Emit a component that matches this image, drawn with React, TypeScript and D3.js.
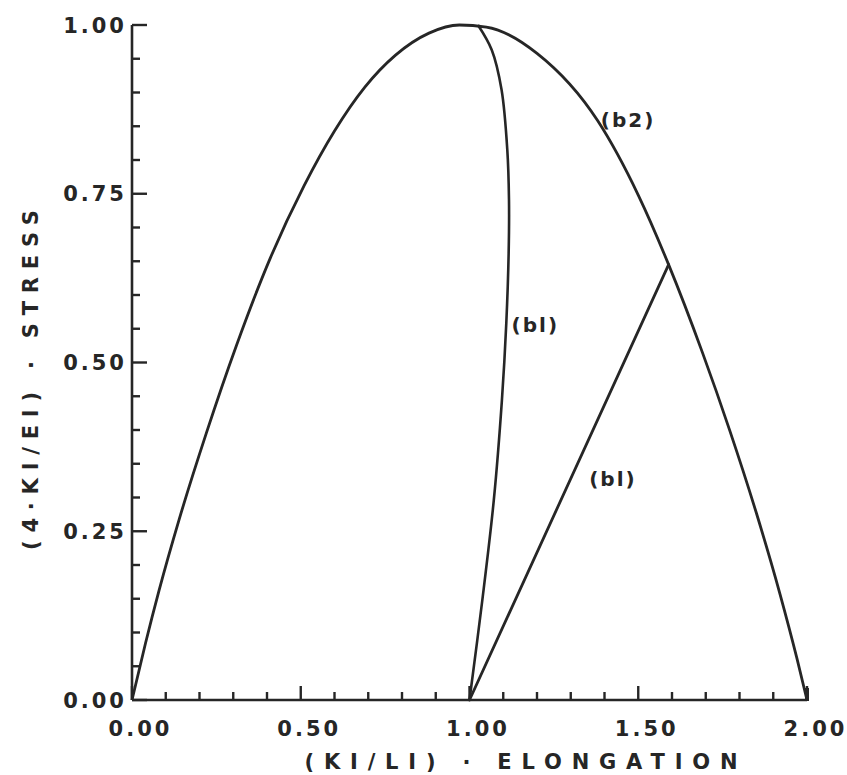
import React from "react";
import * as d3 from "d3";

// ---- data ----
const b2X = [0, 0.04, 0.08, 0.14, 0.22, 0.31, 0.41, 0.51, 0.6, 0.69, 0.78, 0.88, 0.97, 1.05, 1.2, 1.38, 1.5, 1.59, 1.69, 1.77, 1.85, 1.92, 1.97, 2.0];
const b2Y = [0, 0.084, 0.162, 0.268, 0.395, 0.526, 0.655, 0.762, 0.843, 0.908, 0.955, 0.988, 1.0, 0.997, 0.958, 0.858, 0.748, 0.645, 0.515, 0.401, 0.277, 0.157, 0.062, 0];

const b1CurveX = [1.025, 1.066, 1.095, 1.112, 1.117, 1.116, 1.109, 1.096, 1.072, 1.038, 1.0];
const b1CurveY = [1.0, 0.963, 0.904, 0.815, 0.741, 0.662, 0.558, 0.444, 0.296, 0.148, 0];

const b1LineX = [1.0, 1.59];
const b1LineY = [0, 0.645];

const xTickValues = [0, 0.5, 1.0, 1.5, 2.0];
const xTickLabels = ["0.00", "0.50", "1.00", "1.50", "2.00"];
const yTickValues = [0, 0.25, 0.5, 0.75, 1.0];
const yTickLabels = ["0.00", "0.25", "0.50", "0.75", "1.00"];

const xTitle = "(KI/LI) · ELONGATION";
const yTitle = "(4·KI/EI) · STRESS";

const curveLabels = [
  { text: "(b2)", x: 1.47, y: 0.86 },
  { text: "(bl)", x: 1.195, y: 0.555 },
  { text: "(bl)", x: 1.425, y: 0.328 },
];

export default function App() {
  const W = 847;
  const H = 775;
  const x = d3.scaleLinear().domain([0, 2]).range([132, 807]);
  const y = d3.scaleLinear().domain([0, 1]).range([700, 25]);

  const smoothX = d3
    .line<[number, number]>()
    .x((d) => x(d[0]))
    .y((d) => y(d[1]))
    .curve(d3.curveMonotoneX);
  const smooth = d3
    .line<[number, number]>()
    .x((d) => x(d[0]))
    .y((d) => y(d[1]))
    .curve(d3.curveCatmullRom.alpha(0.5));
  const straight = d3
    .line<[number, number]>()
    .x((d) => x(d[0]))
    .y((d) => y(d[1]));

  const b2 = b2X.map((v, i) => [v, b2Y[i]] as [number, number]);
  const b1c = b1CurveX.map((v, i) => [v, b1CurveY[i]] as [number, number]);
  const b1l = b1LineX.map((v, i) => [v, b1LineY[i]] as [number, number]);

  const xMinor = d3.range(0, 2.0001, 0.1);
  const yMinor = d3.range(0, 1.0001, 0.05);
  const ink = "#262626";
  const font = "'DejaVu Sans', sans-serif";
  const ls = 3;

  return (
    <svg
      width={W}
      height={H}
      style={{ position: "absolute", left: 0, top: 0, background: "#fff" }}
      fontFamily={font}
    >
      <rect width={W} height={H} fill="#fff" />
      {/* axes */}
      <line x1={x(0)} x2={x(2)} y1={y(0)} y2={y(0)} stroke={ink} strokeWidth={2.6} />
      <line x1={x(0)} x2={x(0)} y1={y(0)} y2={y(1)} stroke={ink} strokeWidth={2.6} />
      {xMinor.map((v, i) => (
        <line key={"xm" + i} x1={x(v)} x2={x(v)} y1={y(0)} y2={y(0) - (i % 5 === 0 ? 14 : 8)} stroke={ink} strokeWidth={2.4} />
      ))}
      {yMinor.map((v, i) => (
        <line key={"ym" + i} x1={x(0)} x2={x(0) + (i % 5 === 0 ? 15 : 8)} y1={y(v)} y2={y(v)} stroke={ink} strokeWidth={2.4} />
      ))}
      <line x1={x(2)} x2={x(2)} y1={y(0) + 1} y2={y(0) - 12} stroke={ink} strokeWidth={4} />
      {/* tick labels */}
      {xTickValues.map((v, i) => (
        <text key={"xl" + i} x={x(v) + 7 + ls / 2} y={736} textAnchor="middle" fontSize={21} fontWeight="bold" letterSpacing={ls} fill={ink}>
          {xTickLabels[i]}
        </text>
      ))}
      {yTickValues.map((v, i) => (
        <text key={"yl" + i} x={124 + ls} y={y(v) + 7.5} textAnchor="end" fontSize={21} fontWeight="bold" letterSpacing={ls} fill={ink}>
          {yTickLabels[i]}
        </text>
      ))}
      {/* titles */}
      <text x={521} y={769} textAnchor="middle" fontSize={21} fontWeight="bold" textLength={433} lengthAdjust="spacing" fill={ink}>
        {xTitle}
      </text>
      <text
        transform={`translate(38,380) rotate(-90)`}
        textAnchor="middle"
        fontSize={21}
        fontWeight="bold"
        textLength={340}
        lengthAdjust="spacing"
        fill={ink}
      >
        {yTitle}
      </text>
      {/* curves */}
      <path d={smoothX(b2) || ""} fill="none" stroke={ink} strokeWidth={2.8} strokeLinejoin="round" />
      <path d={smooth(b1c) || ""} fill="none" stroke={ink} strokeWidth={2.6} strokeLinejoin="round" />
      <path d={straight(b1l) || ""} fill="none" stroke={ink} strokeWidth={2.8} strokeLinecap="round" />
      {/* curve labels */}
      {curveLabels.map((l, i) => (
        <text key={"cl" + i} x={x(l.x)} y={y(l.y)} textAnchor="middle" dominantBaseline="central" fontSize={20} letterSpacing={2} fontWeight="bold" fill={ink}>
          {l.text}
        </text>
      ))}
    </svg>
  );
}
